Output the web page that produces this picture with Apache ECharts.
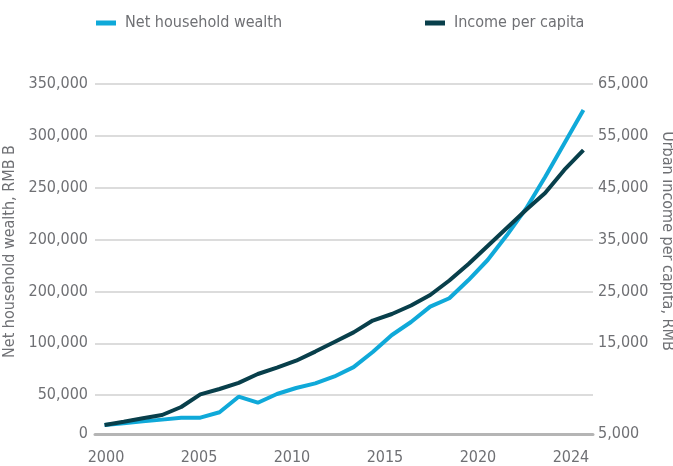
<!DOCTYPE html>
<html>
<head>
<meta charset="utf-8">
<script src="https://cdn.jsdelivr.net/npm/echarts@6/dist/echarts.min.js"></script>
<style>
  html, body { margin: 0; padding: 0; background: #fff; }
  #chart { width: 673px; height: 466px; }
</style>
</head>
<body>
<div id="chart"></div>
<script>
const years = ['2000', '2001', '2002', '2003', '2004', '2005', '2006', '2007', '2008', '2009',
  '2010', '2011', '2012', '2013', '2014', '2015', '2016', '2017', '2018', '2019',
  '2020', '2021', '2022', '2023', '2024', '2025']

// net household wealth, RMB B (left axis)
const wealth = [21200, 22900, 24700, 26400, 28300, 28300, 33500, 48500, 42700, 51100,
  56900, 61400, 68000, 77000, 91600, 108000, 120500, 135300, 143400, 161000,
  180300, 204100, 229800, 260300, 292700, 325000]

// urban income per capita, RMB (right axis)
const income = [-760, -120, 530, 1170, 2710, 5140, 6190, 7360, 9080, 10310,
  11640, 13400, 15250, 17100, 19390, 20650, 22290, 24310, 27110, 30290,
  33760, 37230, 40700, 43980, 48420, 52270]

const wealthTickLabels = ['0', '50,000', '100,000', '200,000', '200,000', '250,000', '300,000', '350,000']
const incomeTickLabels = ['5,000', '15,000', '25,000', '35,000', '45,000', '55,000', '65,000']
const yearTickLabels = ['2000', '2005', '2010', '2015', '2020', '2024']

const BLUE = '#0fa9d9'
const DARK = '#083f4b'
const GREY = '#6f7074'
const FONT = '"DejaVu Sans Condensed", "Liberation Sans Narrow", sans-serif'

const labelStyle = { color: GREY, fontFamily: FONT, fontSize: 16 }

const chart = echarts.init(document.getElementById('chart'), null, { renderer: 'canvas' })

function legendFor(name, left) {
  return {
    data: [name],
    left: left,
    top: 10,
    icon: 'rect',
    itemWidth: 20,
    itemHeight: 5,
    selectedMode: false,
    textStyle: { ...labelStyle, padding: [0, 0, 0, 4] },
  }
}

chart.setOption({
  animation: false,
  backgroundColor: '#fff',
  legend: [legendFor('Net household wealth', 91), legendFor('Income per capita', 420)],
  grid: { left: 95, right: 80, top: 84, bottom: 19, outerBoundsMode: 'none' },
  xAxis: [
    {
      // yearly data slots
      type: 'category',
      data: years,
      boundaryGap: true,
      show: false,
      axisLine: { onZero: false },
    },
    {
      // evenly spaced year labels, as printed in the source
      type: 'value',
      position: 'bottom',
      min: -0.118,
      max: 5.237,
      axisLine: {
        onZero: true,
        onZeroAxisIndex: 2,
        lineStyle: { color: '#b5b5b5', width: 3 },
      },
      axisTick: { show: false },
      splitLine: { show: false },
      axisLabel: {
        ...labelStyle,
        margin: 3,
        customValues: [0, 1, 2, 3, 4, 5],
        formatter: (v) => yearTickLabels[Math.round(v)],
      },
    },
  ],
  yAxis: [
    {
      type: 'value',
      position: 'left',
      min: 0,
      max: 350000,
      interval: 50000,
      name: 'Net household wealth, RMB B',
      nameLocation: 'middle',
      nameRotate: 90,
      nameGap: 69,
      nameTextStyle: { ...labelStyle, padding: [0, 0, 0, 28] },
      axisLine: { show: false, onZero: false },
      axisTick: { show: false },
      splitLine: { showMinLine: false, lineStyle: { color: '#d0d0d0', width: 1.5 } },
      axisLabel: {
        ...labelStyle,
        margin: 7,
        formatter: (v) => (v === 0 ? '' : wealthTickLabels[v / 50000]),
      },
    },
    {
      type: 'value',
      position: 'right',
      min: -5000,
      max: 65000,
      interval: 10000,
      name: 'Urban income per capita, RMB',
      nameLocation: 'middle',
      nameRotate: -90,
      nameGap: 63,
      nameTextStyle: { ...labelStyle, padding: [0, 49, 0, 0] },
      axisLine: { show: false, onZero: false },
      axisTick: { show: false },
      splitLine: { show: false },
      axisLabel: {
        ...labelStyle,
        margin: 5,
        formatter: (v) => (v < 15000 ? '' : incomeTickLabels[(v - 5000) / 10000]),
      },
    },
    {
      // baseline sits a little above the bottom of the grid in the source
      type: 'value',
      position: 'left',
      min: -13,
      max: 350,
      axisLine: { show: false, onZero: false },
      axisTick: { show: false },
      splitLine: { show: false },
      axisLabel: { ...labelStyle, margin: 7, customValues: [0], formatter: () => wealthTickLabels[0] },
    },
    {
      type: 'value',
      position: 'right',
      min: -13,
      max: 350,
      axisLine: { show: false, onZero: false },
      axisTick: { show: false },
      splitLine: { show: false },
      axisLabel: { ...labelStyle, margin: 5, customValues: [0], formatter: () => incomeTickLabels[0] },
    },
  ],
  series: [
    {
      name: 'Net household wealth',
      type: 'line',
      xAxisIndex: 0,
      yAxisIndex: 0,
      data: wealth,
      showSymbol: false,
      lineStyle: { color: BLUE, width: 4 },
      itemStyle: { color: BLUE },
    },
    {
      name: 'Income per capita',
      type: 'line',
      xAxisIndex: 0,
      yAxisIndex: 1,
      data: income,
      showSymbol: false,
      lineStyle: { color: DARK, width: 4 },
      itemStyle: { color: DARK },
    },
  ],
})
</script>
</body>
</html>
